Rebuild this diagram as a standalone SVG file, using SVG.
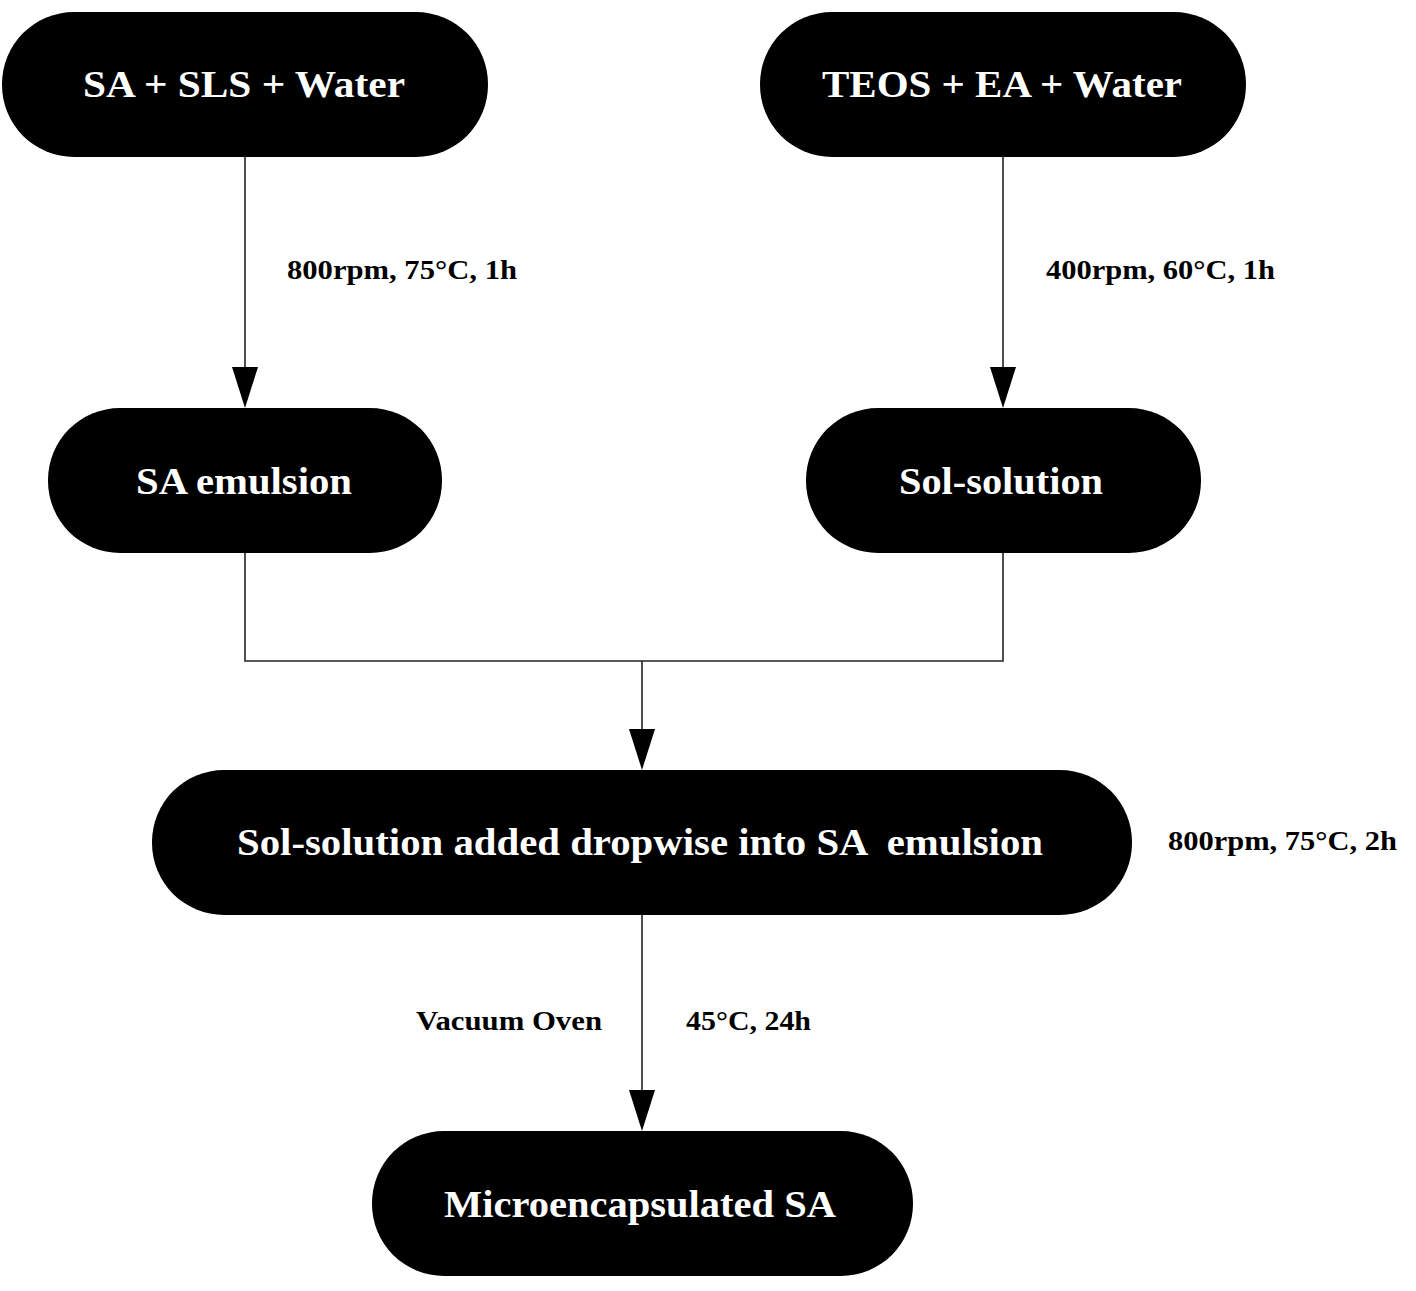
<svg xmlns="http://www.w3.org/2000/svg" width="1416" height="1291" viewBox="0 0 1416 1291">
<defs>
<style>
.node{fill:#000;}
.nt{font-family:"Liberation Serif","Times New Roman",serif;font-weight:bold;font-size:38px;fill:#fff;text-anchor:middle;}
.lbl{font-family:"Liberation Serif","Times New Roman",serif;font-weight:bold;font-size:28px;fill:#000;}
.edge{fill:none;stroke:#222;stroke-width:1.6;}
.head{fill:#000;}
</style>
</defs>
<rect width="1416" height="1291" fill="#fff"/>
<g id="connectors">
<path class="edge" d="M245,157 V367" />
<path class="head" d="M232,367 L258,367 L245,408 Z"/>
<path class="edge" d="M1003,157 V367" />
<path class="head" d="M990,367 L1016,367 L1003,408 Z"/>
<path class="edge" d="M245,553 V661 H1003 V553" />
<path class="edge" d="M642,661 V729" />
<path class="head" d="M629,729 L655,729 L642,770 Z"/>
<path class="edge" d="M642,915 V1090" />
<path class="head" d="M629,1090 L655,1090 L642,1131 Z"/>
<text class="lbl" x="287" y="279" textLength="230" lengthAdjust="spacingAndGlyphs">800rpm, 75°C, 1h</text>
<text class="lbl" x="1046" y="279" textLength="229" lengthAdjust="spacingAndGlyphs">400rpm, 60°C, 1h</text>
<text class="lbl" x="1168" y="850" textLength="229" lengthAdjust="spacingAndGlyphs">800rpm, 75°C, 2h</text>
<text class="lbl" x="416" y="1030" textLength="186" lengthAdjust="spacingAndGlyphs">Vacuum Oven</text>
<text class="lbl" x="686" y="1030" textLength="125" lengthAdjust="spacingAndGlyphs">45°C, 24h</text>
</g>
<g id="n1"><rect class="node" x="2" y="12" width="486" height="145" rx="72"/><text class="nt" x="244" y="97" textLength="322" lengthAdjust="spacingAndGlyphs">SA + SLS + Water</text></g>
<g id="n2"><rect class="node" x="760" y="12" width="486" height="145" rx="72"/><text class="nt" x="1002" y="97" textLength="360" lengthAdjust="spacingAndGlyphs">TEOS + EA + Water</text></g>
<g id="n3"><rect class="node" x="48" y="408" width="394" height="145" rx="72"/><text class="nt" x="244" y="494" textLength="216" lengthAdjust="spacingAndGlyphs">SA emulsion</text></g>
<g id="n4"><rect class="node" x="806" y="408" width="395" height="145" rx="72"/><text class="nt" x="1001" y="494" textLength="204" lengthAdjust="spacingAndGlyphs">Sol-solution</text></g>
<g id="n5"><rect class="node" x="152" y="770" width="980" height="145" rx="72"/><text class="nt" x="640" y="855" textLength="806" lengthAdjust="spacingAndGlyphs" xml:space="preserve">Sol-solution added dropwise into SA  emulsion</text></g>
<g id="n6"><rect class="node" x="372" y="1131" width="541" height="145" rx="72"/><text class="nt" x="640" y="1217" textLength="392" lengthAdjust="spacingAndGlyphs">Microencapsulated SA</text></g>
</svg>
